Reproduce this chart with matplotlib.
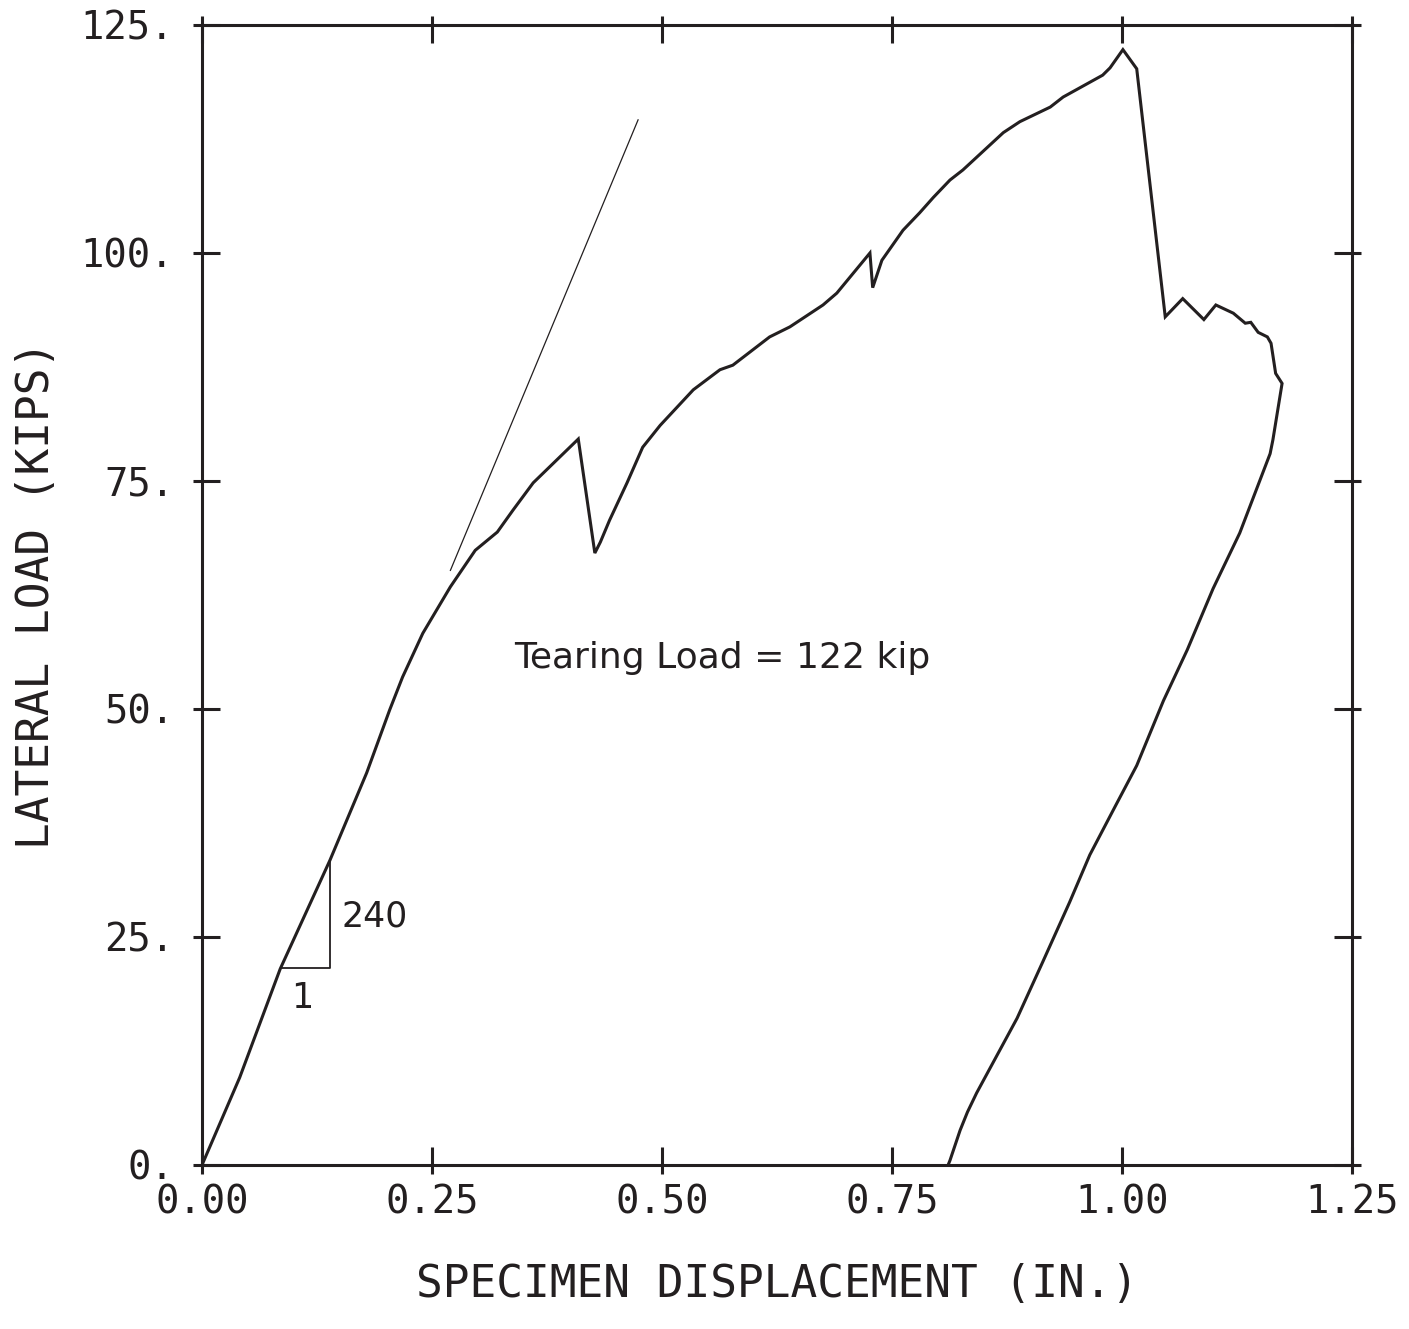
import matplotlib
matplotlib.use("Agg")
import matplotlib.pyplot as plt
from matplotlib.ticker import FixedLocator

# ---------------- data ----------------
disp = [0.000, 0.041, 0.085, 0.139, 0.179, 0.204, 0.218, 0.240, 0.270, 0.297,
        0.321, 0.338, 0.360, 0.409, 0.427, 0.433, 0.443, 0.462, 0.479, 0.498,
        0.534, 0.563, 0.577, 0.617, 0.639, 0.675, 0.690, 0.726, 0.729, 0.739,
        0.762, 0.780, 0.795, 0.813, 0.827, 0.871, 0.889, 0.922, 0.936, 0.979,
        0.987, 1.001, 1.016, 1.047, 1.066, 1.089, 1.102, 1.121, 1.134, 1.140,
        1.148, 1.158, 1.162, 1.167, 1.174, 1.164, 1.161, 1.128, 1.099, 1.071,
        1.045, 1.016, 0.993, 0.965, 0.943, 0.914, 0.886, 0.842, 0.832, 0.824,
        0.813, 0.811]
load = [0.0, 9.6, 21.5, 33.4, 43.0, 49.9, 53.5, 58.3, 63.4, 67.4,
        69.4, 71.8, 74.8, 79.6, 67.1, 68.3, 70.7, 74.8, 78.7, 81.1,
        85.0, 87.2, 87.7, 90.8, 91.9, 94.3, 95.6, 100.0, 96.2, 99.2,
        102.5, 104.4, 106.1, 108.0, 109.1, 113.2, 114.4, 116.0, 117.1, 119.5,
        120.3, 122.3, 120.2, 93.0, 95.0, 92.7, 94.3, 93.4, 92.3, 92.4,
        91.3, 90.8, 90.1, 86.8, 85.7, 79.5, 78.0, 69.3, 63.2, 56.5,
        50.9, 43.8, 39.4, 34.0, 28.8, 22.3, 16.1, 7.9, 5.8, 3.8,
        0.5, 0.0]

# initial stiffness reference line (240 kip/in)
stiff_x = [0.270, 0.474]
stiff_y = [65.2, 114.6]

# slope triangle
tri_x = [0.086, 0.139, 0.139]
tri_y = [21.6, 21.6, 33.2]

x_ticks = [0.0, 0.25, 0.5, 0.75, 1.0, 1.25]
x_tick_labels = ["0.00", "0.25", "0.50", "0.75", "1.00", "1.25"]
y_ticks = [0, 25, 50, 75, 100, 125]
y_tick_labels = ["0.", "25.", "50.", "75.", "100.", "125."]

ink = "#231f20"
mono = ["DejaVu Sans Mono"]

fig = plt.figure(figsize=(14.09, 13.29), dpi=100)
ax = fig.add_axes([202 / 1409, 1 - 1165 / 1329, 1150 / 1409, 1140 / 1329])

ax.plot(disp, load, color=ink, lw=2.2, solid_joinstyle="miter")
ax.plot(stiff_x, stiff_y, color=ink, lw=0.9)
ax.plot(tri_x, tri_y, color=ink, lw=1.3)

ax.text(0.152, 27.3, "240", fontsize=25, color=ink, va="center", ha="left")
ax.text(0.109, 18.3, "1", fontsize=25, color=ink, va="center", ha="center")
ax.text(0.566, 55.6, "Tearing Load = 122 kip", fontsize=26, color=ink,
        va="center", ha="center")

ax.set_xlim(0, 1.25)
ax.set_ylim(0, 125)

for s in ax.spines.values():
    s.set_linewidth(2.2)
    s.set_color(ink)

ax.xaxis.remove_overlapping_locs = False
ax.yaxis.remove_overlapping_locs = False
ax.xaxis.set_major_locator(FixedLocator(x_ticks))
ax.yaxis.set_major_locator(FixedLocator(y_ticks))
ax.xaxis.set_minor_locator(FixedLocator(x_ticks))
ax.yaxis.set_minor_locator(FixedLocator(y_ticks))
ax.set_xticklabels(x_tick_labels, fontfamily=mono, fontsize=28, color=ink)
ax.set_yticklabels(y_tick_labels, fontfamily=mono, fontsize=28, color=ink)

ax.tick_params(which="major", direction="in", length=13, width=2.2, color=ink,
               top=True, right=True, labeltop=False, labelright=False)
ax.tick_params(axis="x", which="major", pad=13)
ax.tick_params(axis="y", which="major", pad=20)
ax.tick_params(which="minor", direction="out", length=6.5, width=2.2, color=ink,
               top=True, right=True, labelbottom=False, labelleft=False)

ax.set_xlabel("SPECIMEN DISPLACEMENT (IN.)", fontfamily=mono, fontsize=32,
              color=ink, labelpad=30)
ax.set_ylabel("LATERAL LOAD (KIPS)", fontfamily=mono, fontsize=32,
              color=ink, labelpad=16)

fig.savefig("out.png", dpi=100, facecolor="white")
